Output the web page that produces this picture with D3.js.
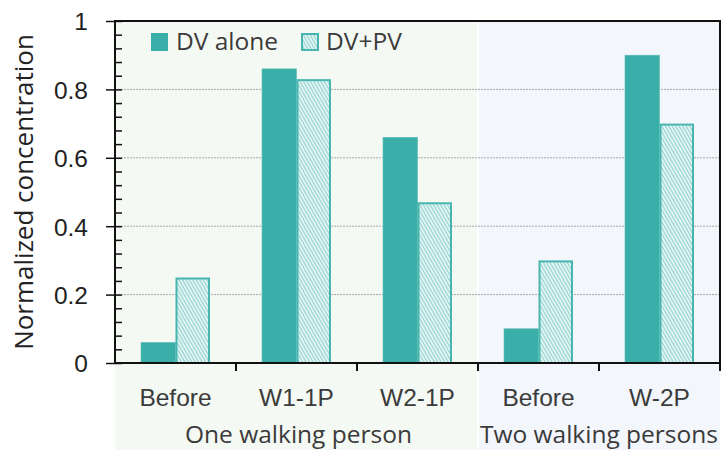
<!DOCTYPE html>
<html>
<head>
<meta charset="utf-8">
<script src="https://cdn.jsdelivr.net/npm/d3@7"></script>
<style>
	body { margin: 0; background: #fff; }
	svg { display: block; font-family: "Open Sans", sans-serif; }
</style>
</head>
<body>
<svg id="chart" width="722" height="450" viewBox="0 0 722 450"></svg>
<script>

// chart values
const categories = ["Before", "W1-1P", "W2-1P", "Before", "W-2P"];
const groupOfCategory = [0, 0, 0, 1, 1];
const groupLabels = ["One walking person", "Two walking persons"];
const seriesNames = ["DV alone", "DV+PV"];
const dvAlone = [0.06, 0.86, 0.66, 0.10, 0.90];
const dvPv = [0.25, 0.83, 0.47, 0.30, 0.70];
const yTicks = [0, 0.2, 0.4, 0.6, 0.8, 1];
const yTickLabels = ["0", "0.2", "0.4", "0.6", "0.8", "1"];

class BarPlot {

	constructor(svg_element_id) {
		this.svg = d3.select('#' + svg_element_id);
		const W = 722, H = 450;
		const margin = {top: 21, right: 2, bottom: 87, left: 115};
		const width = W - margin.left - margin.right;
		const height = H - margin.top - margin.bottom;

		const teal = "#3aafa9";
		const textColor = "#3b3b3b";
		const fontSize = "24.5px";

		const defs = this.svg.append("defs");
		const pattern = defs.append("pattern")
			.attr("id", "hatch")
			.attr("patternUnits", "userSpaceOnUse")
			.attr("width", 3)
			.attr("height", 3)
			.attr("patternTransform", "rotate(-30)");
		pattern.append("rect")
			.attr("width", 3).attr("height", 3)
			.attr("fill", "#ffffff");
		pattern.append("line")
			.attr("x1", 1).attr("y1", 0)
			.attr("x2", 1).attr("y2", 3)
			.attr("stroke", "#62c2bd")
			.attr("stroke-width", 1.1);

		const g = this.svg.append("g")
			.attr("transform", "translate(" + margin.left + "," + margin.top + ")");

		const idx = categories.map((d, i) => i);

		const x = d3.scaleBand()
			.domain(idx)
			.range([0, width])
			.padding(0);

		const x1 = d3.scaleBand()
			.domain(seriesNames)
			.range([0, x.bandwidth()])
			.paddingInner(0)
			.paddingOuter(0.754);

		const y = d3.scaleLinear()
			.domain([0, 1])
			.range([height, 0]);

		// group backgrounds
		const groupBg = ["#f5f9f3", "#f3f6fb"];
		groupLabels.forEach((label, gi) => {
			const members = idx.filter(i => groupOfCategory[i] === gi);
			const x0 = x(members[0]) + (gi > 0 ? 1 : 0);
			const xEnd = x(members[members.length - 1]) + x.bandwidth() - (gi === 0 ? 1 : 0);
			g.append("rect")
				.attr("x", x0)
				.attr("y", 0)
				.attr("width", xEnd - x0)
				.attr("height", H - margin.top)
				.attr("fill", groupBg[gi]);
			g.append("text")
				.attr("x", (x(members[0]) + x(members[members.length - 1]) + x.bandwidth()) / 2 + (gi === 0 ? 2 : 0))
				.attr("y", height + 80)
				.attr("text-anchor", "middle")
				.attr("fill", textColor)
				.style("font-size", fontSize)
				.text(label);
		});

		// grid lines
		g.append("g")
			.selectAll("line")
			.data(yTicks.filter(d => d > 0 && d < 1))
			.enter()
			.append("line")
				.attr("x1", 0)
				.attr("x2", width)
				.attr("y1", d => y(d))
				.attr("y2", d => y(d))
				.attr("stroke", "#a8a8a8")
				.attr("stroke-width", 1)
				.attr("stroke-dasharray", "2,1");

		// bars
		const seriesData = [dvAlone, dvPv];
		const bars = g.append("g");
		seriesData.forEach((values, si) => {
			bars.selectAll(".bar-" + si)
				.data(values)
				.enter()
				.append("rect")
				.attr("class", "bar-" + si)
				.attr("x", (d, i) => x(i) + x1(seriesNames[si]) + (si === 1 ? 1 : 0))
				.attr("y", d => y(d) + (si === 1 ? 1 : 0))
				.attr("width", x1.bandwidth() - (si === 1 ? 2 : 0))
				.attr("height", d => height - y(d) - (si === 1 ? 1 : 0))
				.attr("fill", si === 0 ? teal : "url(#hatch)")
				.attr("stroke", si === 0 ? "#5cbdb8" : "#48b5b0")
				.attr("stroke-width", si === 0 ? 0.6 : 2);
		});

		// y axis: major ticks outward, minor ticks inward
		const yAxis = d3.axisLeft(y)
			.tickValues(yTicks)
			.tickFormat((d, i) => yTickLabels[i])
			.tickSize(9)
			.tickPadding(18);
		const yAxisG = g.append("g").call(yAxis);
		yAxisG.select(".domain").remove();
		yAxisG.selectAll(".tick line").attr("stroke", "#111").attr("stroke-width", 1.5);
		yAxisG.selectAll(".tick text")
			.attr("fill", "#222")
			.style("font-size", fontSize)
			.attr("dy", "0.36em");

		const minorAxis = d3.axisRight(y)
			.tickValues(d3.range(0, 1.0001, 0.04))
			.tickFormat("")
			.tickSize(7);
		const minorG = g.append("g").call(minorAxis);
		minorG.select(".domain").remove();
		minorG.selectAll(".tick line").attr("stroke", "#111").attr("stroke-width", 1.5);

		// x axis labels
		const xAxis = d3.axisBottom(x)
			.tickFormat(i => categories[i])
			.tickSize(0)
			.tickPadding(26);
		const xAxisG = g.append("g")
			.attr("transform", "translate(0," + height + ")")
			.call(xAxis);
		xAxisG.select(".domain").remove();
		xAxisG.selectAll(".tick text")
			.attr("fill", textColor)
			.style("font-size", fontSize);

		// boundary ticks on x axis
		g.append("g")
			.selectAll("line")
			.data(idx)
			.enter()
			.append("line")
				.attr("x1", i => x(i) + x.bandwidth())
				.attr("x2", i => x(i) + x.bandwidth())
				.attr("y1", height)
				.attr("y2", height + 8)
				.attr("stroke", "#111")
				.attr("stroke-width", 2);

		// frame
		g.append("path")
			.attr("d", "M0,0H" + width + "V" + height + "H0Z")
			.attr("fill", "none")
			.attr("stroke", "#111")
			.attr("stroke-width", 2);

		// y label
		this.svg.append("text")
			.attr("transform", "translate(33," + (margin.top + height / 2) + ") rotate(-90)")
			.attr("text-anchor", "middle")
			.attr("fill", "#222")
			.style("font-size", "26px")
			.text("Normalized concentration");

		// legend
		const legend = g.append("g")
			.attr("transform", "translate(36,12)");
		const legendX = [0, 150];
		seriesNames.forEach((name, si) => {
			const item = legend.append("g")
				.attr("transform", "translate(" + legendX[si] + ",0)");
			item.append("rect")
				.attr("x", si === 1 ? 1 : 0)
				.attr("y", si === 1 ? 1 : 0)
				.attr("width", si === 1 ? 16 : 17)
				.attr("height", si === 1 ? 16 : 18)
				.attr("fill", si === 0 ? teal : "url(#hatch)")
				.attr("stroke", si === 0 ? "none" : "#48b5b0")
				.attr("stroke-width", 2);
			item.append("text")
				.attr("x", 25)
				.attr("y", 17)
				.attr("fill", textColor)
				.style("font-size", fontSize)
				.text(name);
		});
	}
}

function whenDocumentLoaded(action) {
	if (document.readyState === "loading") {
		document.addEventListener("DOMContentLoaded", action);
	} else {
		action();
	}
}

whenDocumentLoaded(() => {
	plot_object = new BarPlot('chart');
});
</script>
</body>
</html>
